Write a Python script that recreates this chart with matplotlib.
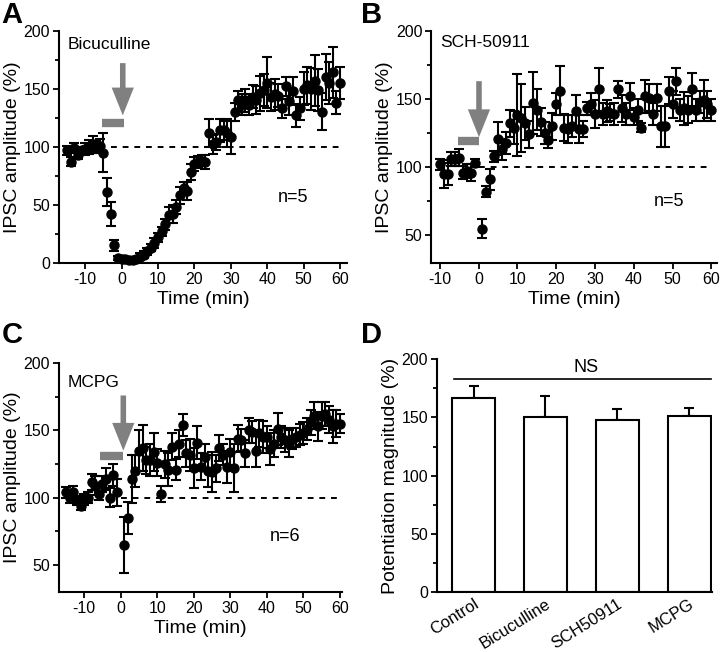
import matplotlib
matplotlib.use('Agg')
import matplotlib.pyplot as plt
from matplotlib.ticker import MultipleLocator

plt.rcParams['font.family'] = ['Liberation Sans', 'DejaVu Sans']
plt.rcParams['axes.unicode_minus'] = False

# A: bicuculline
time_a = [-15, -14, -13, -12, -11, -10, -9, -8, -7, -6, -5, -4, -3, -2, -1, 0,
          1, 2, 3, 4, 5, 6, 7, 8, 9, 10, 11, 12, 13, 14, 15, 16, 17, 18, 19, 20,
          21, 22, 23, 24, 25, 26, 27, 28, 29, 30, 31, 32, 33, 34, 35, 36, 37, 38,
          39, 40, 41, 42, 43, 44, 45, 46, 47, 48, 49, 50, 51, 52, 53, 54, 55, 56,
          57, 58, 59, 60]
ipsc_a = [97, 87, 99, 93, 97, 98, 100, 102, 100, 101, 95, 61, 42, 15, 4, 3,
          3, 2, 2, 3, 5, 7, 10, 13, 17, 22, 27, 33, 41, 42, 48, 58, 64, 62, 78, 85,
          87, 88, 87, 112, 102, 104, 114, 114, 112, 108, 130, 140, 136, 140, 136, 143, 140, 146,
          149, 155, 143, 145, 144, 133, 152, 139, 148, 127, 133, 150, 153, 150, 157, 149, 130, 160,
          155, 164, 138, 155]
err_a = [4, 4, 4, 4, 3, 5, 6, 7, 5, 6, 17, 12, 10, 5, 2, 2,
         2, 2, 2, 2, 3, 3, 3, 3, 4, 4, 4, 5, 7, 8, 6, 7, 6, 8, 7, 6,
         5, 5, 6, 12, 8, 7, 10, 8, 12, 14, 8, 8, 9, 10, 9, 10, 12, 15,
         14, 22, 12, 13, 10, 8, 8, 12, 12, 10, 10, 14, 16, 18, 22, 18, 16, 20,
         18, 22, 10, 14]

# B: SCH-50911
time_b = [-10, -9, -8, -7, -6, -5, -4, -3, -2, -1,
          1, 2, 3, 4, 5, 6, 7, 8, 9, 10, 11, 12, 13, 14, 15, 16, 17, 18, 19, 20,
          21, 22, 23, 24, 25, 26, 27, 28, 29, 30, 31, 32, 33, 34, 35, 36, 37, 38,
          39, 40, 41, 42, 43, 44, 45, 46, 47, 48, 49, 50, 51, 52, 53, 54, 55, 56,
          57, 58, 59, 60]
ipsc_b = [102, 95, 95, 106, 106, 107, 96, 97, 96, 103,
          55, 82, 91, 108, 121, 113, 118, 132, 129, 138, 136, 132, 124, 147, 142, 133, 125, 120, 130, 146,
          156, 129, 128, 130, 141, 128, 128, 143, 146, 139, 157, 139, 141, 140, 139, 157, 143, 139,
          152, 137, 142, 129, 152, 151, 139, 151, 130, 130, 156, 146, 163, 142, 143, 142, 157, 142,
          148, 149, 146, 142]
err_b = [4, 10, 8, 5, 5, 6, 5, 5, 6, 3,
         7, 4, 8, 4, 12, 8, 8, 10, 12, 30, 25, 12, 10, 23, 15, 10, 8, 6, 10, 8,
         18, 10, 10, 8, 12, 10, 6, 5, 8, 10, 16, 8, 8, 6, 8, 6, 10, 8,
         10, 6, 8, 3, 12, 10, 8, 10, 15, 15, 10, 10, 10, 8, 12, 10, 12, 8,
         8, 15, 10, 8]

# C: MCPG
time_c = [-15, -14, -13, -12, -11, -10, -9, -8, -7, -6, -5, -4, -3, -2, -1,
          1, 2, 3, 4, 5, 6, 7, 8, 9, 10, 11, 12, 13, 14, 15, 16, 17, 18, 19, 20,
          21, 22, 23, 24, 25, 26, 27, 28, 29, 30, 31, 32, 33, 34, 35, 36, 37, 38,
          39, 40, 41, 42, 43, 44, 45, 46, 47, 48, 49, 50, 51, 52, 53, 54, 55, 56,
          57, 58, 59, 60]
ipsc_c = [104, 100, 104, 98, 94, 99, 100, 112, 109, 103, 110, 114, 100, 117, 104,
          65, 85, 114, 120, 135, 137, 128, 128, 134, 126, 103, 125, 121, 138, 121, 140, 154, 133, 132, 122,
          141, 123, 130, 120, 119, 122, 137, 132, 123, 134, 122, 144, 143, 133, 150, 149, 135, 148,
          145, 145, 136, 140, 151, 145, 143, 140, 144, 145, 147, 148, 151, 156, 161, 153, 161, 162,
          158, 153, 155, 155]
err_c = [4, 4, 5, 3, 3, 4, 4, 6, 7, 5, 6, 8, 7, 8, 10,
         21, 12, 18, 12, 15, 17, 10, 12, 14, 10, 6, 10, 12, 10, 8, 10, 8, 10, 12, 15,
         12, 10, 10, 12, 15, 10, 10, 8, 12, 10, 18, 10, 8, 10, 9, 8, 12, 10,
         12, 8, 12, 10, 12, 8, 9, 10, 8, 7, 8, 8, 8, 9, 10, 11, 10, 9,
         10, 12, 10, 7]

# D: potentiation magnitude
groups = ['Control', 'Bicuculline', 'SCH50911', 'MCPG']
potentiation = [167, 150, 148, 151]
potentiation_err = [10, 18, 9, 7]

GRAY = '#808080'


def style_axes(ax):
    for s in ['top', 'right']:
        ax.spines[s].set_visible(False)
    for s in ['left', 'bottom']:
        ax.spines[s].set_linewidth(1.5)
    ax.tick_params(which='both', direction='out', width=1.3, labelsize=11.5, pad=2.5)
    ax.tick_params(which='major', length=4)
    ax.tick_params(which='minor', length=3)
    ax.yaxis.set_minor_locator(MultipleLocator(25))


def time_course(ax, t, y, e, xlim, ylim, drug, drug_y, n_text, n_xy,
                bar_x, bar_y, arrow_x, arrow_top, arrow_tip, dash_start):
    ax.plot([dash_start, 60], [100, 100], color='black', lw=1.4, dashes=(3, 3), zorder=1)
    ax.errorbar(t, y, yerr=e, fmt='o', color='black', ms=6.5, elinewidth=1.5,
                capsize=3.5, capthick=1.5, zorder=3, clip_on=False)
    ax.plot(bar_x, [bar_y, bar_y], color=GRAY, lw=6, solid_capstyle='butt')
    ax.annotate('', xy=(arrow_x, arrow_tip), xytext=(arrow_x, arrow_top),
                arrowprops=dict(facecolor=GRAY, edgecolor='none', width=4,
                                headwidth=16, headlength=20, shrink=0))
    ax.text(xlim[0] + 2.4, drug_y, drug, fontsize=12.5, va='center')
    ax.text(n_xy[0], n_xy[1], n_text, fontsize=13, ha='center', va='center')
    ax.set_xlim(xlim)
    ax.set_ylim(ylim)
    ax.set_xticks([-10, 0, 10, 20, 30, 40, 50, 60])
    ax.set_xlabel('Time (min)', fontsize=14, labelpad=3)
    ax.set_ylabel('IPSC amplitude (%)', fontsize=14, labelpad=2)
    style_axes(ax)


fig = plt.figure(figsize=(7.2, 6.52), dpi=100)
ax_a = fig.add_axes([0.082, 0.597, 0.400, 0.356])
ax_b = fig.add_axes([0.599, 0.597, 0.397, 0.356])
ax_c = fig.add_axes([0.082, 0.092, 0.393, 0.351])
ax_d = fig.add_axes([0.607, 0.092, 0.382, 0.357])

time_course(ax_a, time_a, ipsc_a, err_a, (-17.2, 61.9), (0, 200), 'Bicuculline', 188,
            'n=5', (47, 56), [-5.5, 0.6], 120, 0.3, 172, 127, -3)
ax_a.set_yticks([0, 50, 100, 150, 200])

time_course(ax_b, time_b, ipsc_b, err_b, (-12.2, 61.5), (30, 200), 'SCH-50911', 191,
            'n=5', (49, 75), [-5.2, 0.2], 119, 0.1, 163, 122, 0)
ax_b.set_yticks([50, 100, 150, 200])

time_course(ax_c, time_c, ipsc_c, err_c, (-16.9, 60.6), (30, 200), 'MCPG', 186,
            'n=6', (45, 71), [-5.7, 0.5], 131, 0.7, 176, 135, 0)
ax_c.set_yticks([50, 100, 150, 200])

pos = [0, 1, 2, 3]
ax_d.bar(pos, potentiation, width=0.6, color='white', edgecolor='black', lw=1.5, zorder=2)
ax_d.errorbar(pos, potentiation, yerr=[[0, 0, 0, 0], potentiation_err], fmt='none',
              ecolor='black', elinewidth=1.5, capsize=3.5, capthick=1.5, zorder=1)
ax_d.plot([-0.27, 3.31], [183, 183], color='black', lw=1.2, clip_on=False)
ax_d.text(1.57, 186, 'NS', fontsize=13, ha='center', va='bottom')
ax_d.set_xlim(-0.51, 3.32)
ax_d.set_ylim(0, 200)
ax_d.set_yticks([0, 50, 100, 150, 200])
ax_d.set_xticks(pos)
ax_d.set_xticklabels(groups, rotation=32, ha='right', rotation_mode='anchor')
ax_d.set_ylabel('Potentiation magnitude (%)', fontsize=14, labelpad=2)
style_axes(ax_d)
ax_d.tick_params(axis='x', length=0, pad=3, labelsize=12)

for label, x, y in [('A', 0.002, 0.998), ('B', 0.502, 0.998),
                    ('C', 0.002, 0.507), ('D', 0.502, 0.507)]:
    fig.text(x, y, label, fontsize=21, fontweight='bold', va='top', ha='left')

fig.savefig('out.png', dpi=100)
